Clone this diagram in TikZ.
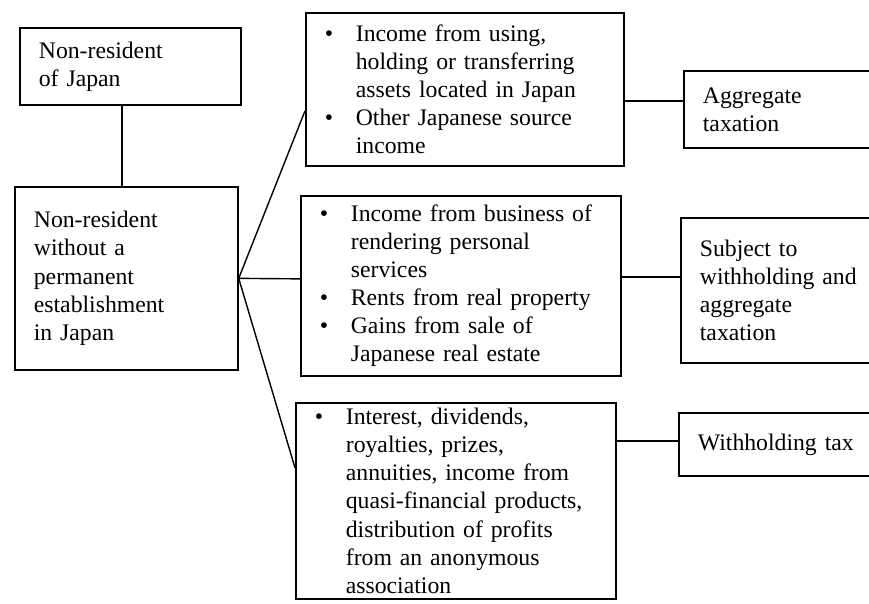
\documentclass[tikz,border=0pt]{standalone}
\usepackage{fontspec}
\setmainfont{Liberation Serif}

% bullet column for the income lists
\newcommand{\bul}{\makebox[0.62cm][l]{\textbullet}}
\newcommand{\ind}{\hspace*{0.62cm}}

\begin{document}
\begin{tikzpicture}[x=0.02cm, y=-0.02cm,
    box/.style={draw, line width=1pt, anchor=north west, align=left,
        inner xsep=0.38cm, inner ysep=0pt, font=\fontsize{13.5}{16}\selectfont},
    link/.style={line width=0.8pt}]

    % Fix the frame of the page (the right column runs off the edge)
    \useasboundingbox (0,0) rectangle (869,603);
    \clip (0,0) rectangle (869,603);

    % Left column: the taxpayer
    \node[box, text width=3.66cm, minimum height=1.54cm] (nonres) at (19,27)
        {Non-resident\\of Japan};
    \node[box, text width=3.70cm, minimum height=3.66cm] (nope) at (14,186)
        {Non-resident\\without a\\permanent\\establishment\\in Japan};

    % Middle column: kinds of income
    \node[box, text width=5.60cm, minimum height=3.06cm] (assets) at (305,12)
        {\bul Income from using,\\ \ind holding or transferring\\ \ind assets located in Japan\\
         \bul Other Japanese source\\ \ind income};
    \node[box, text width=5.64cm, minimum height=3.60cm] (business) at (300,195)
        {\bul Income from business of\\ \ind rendering personal\\ \ind services\\
         \bul Rents from real property\\
         \bul Gains from sale of\\ \ind Japanese real estate};
    \node[box, text width=5.64cm, minimum height=3.92cm] (interest) at (295,402)
        {\bul Interest, dividends,\\ \ind royalties, prizes,\\ \ind annuities, income from\\
         \ind quasi-financial products,\\ \ind distribution of profits\\
         \ind from an anonymous\\ \ind association};

    % Right column: how it is taxed
    \node[box, text width=3.24cm, minimum height=1.54cm] (aggr) at (683,70)
        {Aggregate\\taxation};
    \node[box, text width=3.24cm, minimum height=2.90cm] (both) at (680,217)
        {Subject to\\withholding and\\aggregate\\taxation};
    \node[box, text width=3.24cm, minimum height=1.26cm] (withh) at (678,412)
        {Withholding tax};

    % Connectors
    \draw[link] ([xshift=-0.17cm]nonres.south) -- ([xshift=-0.17cm]nonres.south |- nope.north);
    \draw[link] (nope.east) -- ([yshift=-0.43cm]assets.west);
    \draw[link] (nope.east) -- ([yshift=0.14cm]business.west);
    \draw[link] (nope.east) -- ([yshift=0.66cm]interest.west);
    \draw[link] ([yshift=0.17cm]aggr.west) -- ([yshift=0.17cm]aggr.west -| assets.east);
    \draw[link] ([yshift=0.27cm]both.west) -- ([yshift=0.27cm]both.west -| business.east);
    \draw[link] ([yshift=0.07cm]withh.west) -- ([yshift=0.07cm]withh.west -| interest.east);

\end{tikzpicture}
\end{document}
